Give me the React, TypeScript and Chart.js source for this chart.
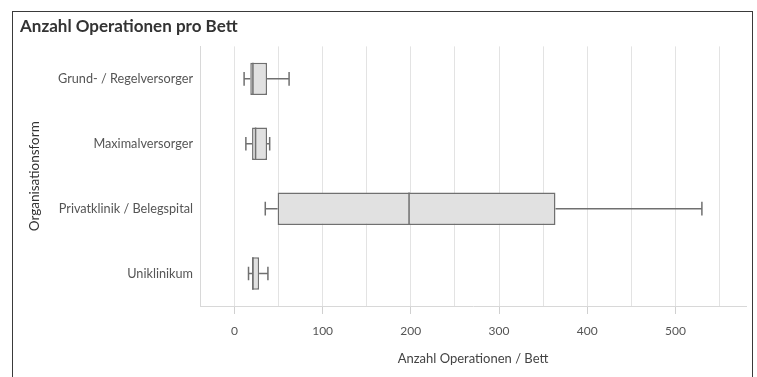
import React, { useEffect, useRef } from 'react';
import { Chart, registerables } from 'chart.js';

Chart.register(...registerables);

const categories = ['Grund- / Regelversorger', 'Maximalversorger', 'Privatklinik / Belegspital', 'Uniklinikum'];
const mins = [11, 13, 35, 16];
const q1s = [18, 20, 49, 20];
const medians = [21, 24, 198, 21];
const q3s = [37, 37, 364, 28];
const maxs = [62, 40, 530, 38];

const FONT = 'Lato, "Open Sans", sans-serif';

export default function App() {
  const ref = useRef<HTMLCanvasElement>(null);

  useEffect(() => {
    if (!ref.current) return;
    const boxPlugin = {
      id: 'boxWhiskers',
      afterDatasetsDraw(chart: any) {
        const { ctx } = chart;
        const x = chart.scales.x;
        const y = chart.scales.y;
        const meta = chart.getDatasetMeta(0);
        ctx.save();
        ctx.strokeStyle = '#707070';
        ctx.lineWidth = 1.5;
        categories.forEach((_, i) => {
          const cy = y.getPixelForValue(i);
          const el = meta.data[i];
          const h = el.getProps(['height'], true).height;
          const cap = h * 0.42;
          const px = (v: number) => x.getPixelForValue(v);
          ctx.beginPath();
          ctx.moveTo(px(mins[i]), cy);
          ctx.lineTo(px(q1s[i]), cy);
          ctx.moveTo(px(q3s[i]), cy);
          ctx.lineTo(px(maxs[i]), cy);
          ctx.moveTo(px(mins[i]), cy - cap / 2);
          ctx.lineTo(px(mins[i]), cy + cap / 2);
          ctx.moveTo(px(maxs[i]), cy - cap / 2);
          ctx.lineTo(px(maxs[i]), cy + cap / 2);
          ctx.moveTo(px(medians[i]), cy - h / 2);
          ctx.lineTo(px(medians[i]), cy + h / 2);
          ctx.stroke();
        });
        ctx.restore();
      },
    };

    const chart = new Chart(ref.current, {
      type: 'bar',
      data: {
        labels: categories,
        datasets: [
          {
            data: categories.map((_, i) => [q1s[i], q3s[i]]) as any,
            backgroundColor: '#e1e1e1',
            borderColor: '#707070',
            borderWidth: 1.5,
            borderSkipped: false,
            barPercentage: 0.5,
            categoryPercentage: 1,
          },
        ],
      },
      options: {
        indexAxis: 'y',
        animation: false,
        responsive: false,
        maintainAspectRatio: false,
        layout: { padding: { left: 20, right: 11, top: 0, bottom: 10 } },
        plugins: {
          legend: { display: false },
          tooltip: { enabled: false },
          title: {
            display: true,
            text: 'Anzahl Operationen pro Bett',
            align: 'start',
            color: '#333',
            font: { family: FONT, size: 17, weight: 'bold' },
            padding: { top: 16, bottom: 10 },
          },
        },
        scales: {
          x: {
            type: 'linear',
            min: -39,
            max: 580,
            grid: {
              color: '#e3e3e3',
              lineWidth: 1,
              tickLength: 8,
              tickColor: (c: any) => (c.tick && c.tick.value % 100 === 0 ? '#d0d0d0' : 'rgba(0,0,0,0)'),
            },
            border: { display: true, color: '#d8d8d8' },
            ticks: {
              stepSize: 50,
              includeBounds: false,
              maxRotation: 0,
              autoSkip: false,
              padding: 10,
              color: '#555',
              font: { family: FONT, size: 12 },
              callback: (v: any) => (Number(v) % 100 === 0 ? String(v) : ''),
            },
            title: {
              display: true,
              text: 'Anzahl Operationen / Bett',
              color: '#444',
              font: { family: FONT, size: 13 },
              padding: { top: 3, bottom: 0 },
            },
          },
          y: {
            type: 'category',
            grid: { display: false, drawTicks: false },
            border: { display: true, color: '#d8d8d8' },
            ticks: {
              color: '#555',
              padding: 7,
              font: { family: FONT, size: 12.7 },
            },
            title: {
              display: true,
              text: 'Organisationsform',
              color: '#333',
              font: { family: FONT, size: 13.5 },
              padding: { top: 7, bottom: 0 },
            },
            afterFit: (s: any) => {
              s.width = 180;
            },
          },
        },
      },
      plugins: [boxPlugin],
    });
    return () => chart.destroy();
  }, []);

  return (
    <div style={{ position: 'fixed', left: 0, top: 0, width: 757, height: 377, overflow: 'hidden', background: '#fff' }}>
      <div
        style={{
          position: 'absolute',
          left: 12,
          top: 11,
          width: 741,
          height: 400,
          border: '1px solid #3a3a3a',
          boxSizing: 'border-box',
        }}
      />
      <canvas ref={ref} width={757} height={377} style={{ position: 'absolute', left: 0, top: 0, width: 757, height: 377 }} />
    </div>
  );
}
